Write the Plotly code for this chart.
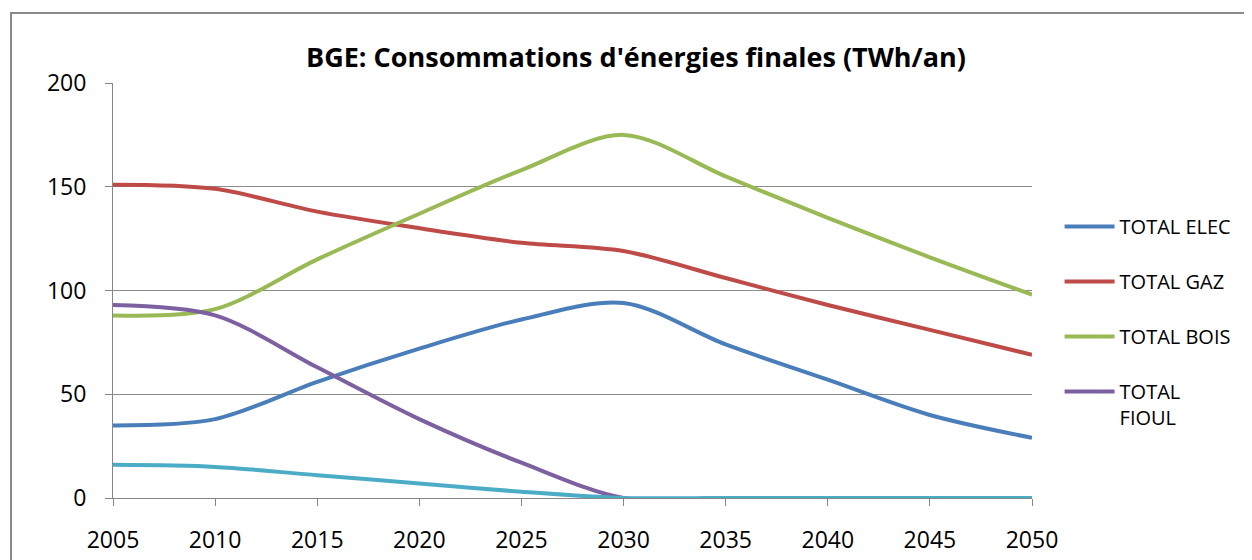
import plotly.graph_objects as go

years = [2005, 2010, 2015, 2020, 2025, 2030, 2035, 2040, 2045, 2050]
elec = [35, 38, 56, 72, 86, 94, 74, 57, 40, 29]
gaz = [151, 149, 138, 130, 123, 119, 106, 93, 81, 69]
bois = [88, 91, 115, 137, 158, 175, 155, 135, 116, 98]
fioul = [93, 88, 63, 38, 17, 0, 0, 0, 0, 0]
autre = [16, 15, 11, 7, 3, 0, 0, 0, 0, 0]

series = [
    ("TOTAL ELEC", elec, "#4A7EBB", True),
    ("TOTAL GAZ", gaz, "#BE4B48", True),
    ("TOTAL BOIS", bois, "#98B954", True),
    ("TOTAL<br>FIOUL", fioul, "#7D60A0", True),
    ("", autre, "#4BACC6", False),
]

FONT = "Open Sans"
# page body has an 8px margin; the figure is placed so the plot area sits at
# x 113..1032, y 83..498 in the window
W, H = 1244, 552
L, T = 105, 75
PW, PH = 919, 415

fig = go.Figure()
for i, (name, vals, color, show) in enumerate(series):
    fig.add_trace(go.Scatter(
        x=years, y=vals, name=name, mode="lines",
        line=dict(color=color, width=4, shape="spline", smoothing=0.9),
        showlegend=show, legendgroup=str(i), cliponaxis=False,
    ))

fig.update_layout(
    width=W, height=H,
    margin=dict(l=L, r=W - L - PW, t=T, b=H - T - PH, autoexpand=False),
    paper_bgcolor="white", plot_bgcolor="white",
    title=dict(text="<b>BGE: Consommations d'énergies finales (TWh/an)</b>",
               x=628 / W, xanchor="center", y=1 - 50 / H, yanchor="middle",
               font=dict(family=FONT, size=27, color="#000000")),
    font=dict(family=FONT, size=23, color="#000000"),
    legend=dict(x=1.03, xanchor="left", y=(PH - 124) / PH, yanchor="top",
                font=dict(family=FONT, size=20, color="#000000"),
                tracegroupgap=26, valign="top", bgcolor="rgba(0,0,0,0)",
                itemwidth=50),
    xaxis=dict(range=[2005, 2050], tickvals=years, ticktext=[str(y) for y in years],
               showgrid=False, showline=True, linecolor="#868686", linewidth=1,
               ticks="outside", ticklen=7, tickcolor="#868686",
               ticklabelstandoff=14, zeroline=False, automargin=False,
               tickfont=dict(family=FONT, size=23)),
    yaxis=dict(range=[0, 200], tickvals=[0, 50, 100, 150, 200],
               showgrid=True, gridcolor="#8C8C8C", gridwidth=1,
               showline=True, linecolor="#868686", linewidth=1,
               ticks="outside", ticklen=7, tickcolor="#868686",
               ticklabelstandoff=14, zeroline=False, automargin=False,
               tickfont=dict(family=FONT, size=23)),
    shapes=[dict(type="rect", xref="paper", yref="paper",
                 x0=(3 - L) / PW, x1=1.4, y0=-0.4, y1=(PH + T - 5) / PH,
                 line=dict(color="#8A8A8A", width=2), fillcolor="rgba(0,0,0,0)",
                 layer="below")],
)

fig.write_html("out.html")
